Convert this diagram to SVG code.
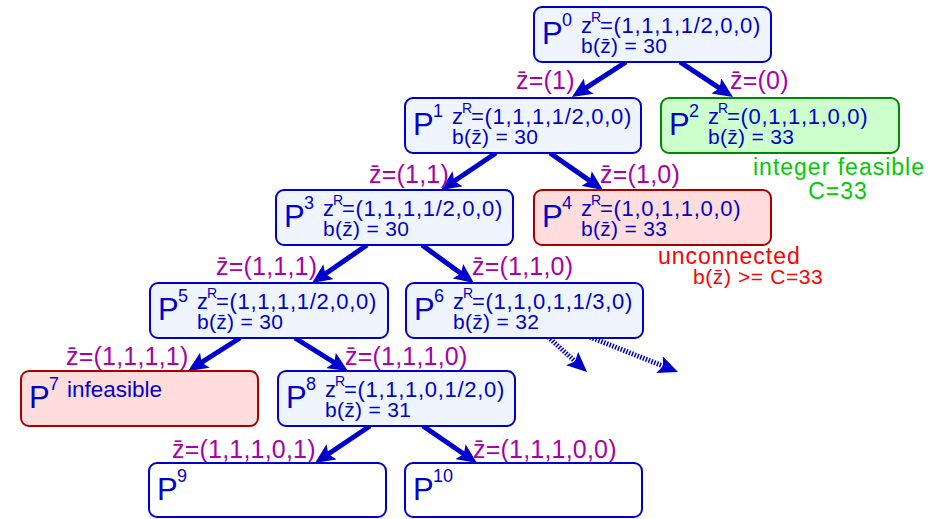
<svg xmlns="http://www.w3.org/2000/svg" width="948" height="519" viewBox="0 0 948 519">
<style>
  text { font-family: "Liberation Sans", Arial, sans-serif; }
  .box { stroke-width: 2; }
  .blue { fill: #eef5ff; stroke: #0000cc; }
  .green { fill: #ccffcc; stroke: #008800; }
  .red { fill: #ffdddd; stroke: #aa0000; }
  .white { fill: #ffffff; stroke: #0000cc; }
  .t { fill: #0000cc; }
  .P { font-size: 31px; }
  .sup { font-size: 18px; }
  .z { font-size: 22px; }
  .R { font-size: 14px; }
  .eq { font-size: 22px; letter-spacing: 0.7px; }
  .l2 { font-size: 21px; letter-spacing: 0.3px; }
  .lab { fill: #aa00aa; font-size: 25px; letter-spacing: 0.2px; }
  .edge { stroke: #0000cc; stroke-width: 5; fill: none; marker-end: url(#ah); }
  .dash { stroke-dasharray: 1.5 1.5; }
  .gtxt { fill: #00cc00; font-size: 23px; letter-spacing: 1px; }
  .rtxt { fill: #ff0000; font-size: 23px; letter-spacing: 1px; }
</style>
<defs>
  <marker id="ah" markerUnits="userSpaceOnUse" viewBox="0 0 20 18" refX="12" refY="9" markerWidth="20" markerHeight="18" orient="auto">
    <path d="M0,0 L20,9 L0,18 L4,9 z" fill="#0000cc"/>
  </marker>
</defs>

<g id="connectors">
  <line class="edge" x1="626" y1="62" x2="578.7" y2="92.6"/>
  <line class="edge" x1="680" y1="62" x2="726.3" y2="92.6"/>
  <line class="edge" x1="496" y1="153" x2="447.6" y2="185.5"/>
  <line class="edge" x1="550" y1="153" x2="596.4" y2="185.4"/>
  <line class="edge" x1="367" y1="245" x2="318.6" y2="278.5"/>
  <line class="edge" x1="422" y1="245" x2="467.5" y2="278.3"/>
  <line class="edge" x1="240" y1="338" x2="194.8" y2="366.7"/>
  <line class="edge" x1="295" y1="338" x2="341.2" y2="366.8"/>
  <line class="edge dash" x1="548" y1="337" x2="581.1" y2="366.6"/>
  <line class="edge dash" x1="590" y1="337" x2="670.6" y2="369"/>
  <line class="edge" x1="370" y1="426" x2="321.6" y2="458.5"/>
  <line class="edge" x1="423" y1="426" x2="470.4" y2="458.5"/>
  <text class="lab" x="516" y="89">z&#x0304;=(1)</text>
  <text class="lab" x="730" y="89">z&#x0304;=(0)</text>
  <text class="lab" x="369" y="183">z&#x0304;=(1,1)</text>
  <text class="lab" x="600" y="183">z&#x0304;=(1,0)</text>
  <text class="lab" x="216" y="275">z&#x0304;=(1,1,1)</text>
  <text class="lab" x="472" y="275">z&#x0304;=(1,1,0)</text>
  <text class="lab" x="66" y="365">z&#x0304;=(1,1,1,1)</text>
  <text class="lab" x="345" y="365">z&#x0304;=(1,1,1,0)</text>
  <text class="lab" x="172" y="458">z&#x0304;=(1,1,1,0,1)</text>
  <text class="lab" x="473" y="458">z&#x0304;=(1,1,1,0,0)</text>
</g>

<g id="P0" transform="translate(534,7)">
  <rect class="box blue" x="0" y="0" width="237" height="55" rx="8"/>
  <text class="t P" x="8" y="37">P</text><text class="t sup" x="28" y="19">0</text>
  <text class="t z" x="47" y="26">z</text><text class="t R" x="57" y="15">R</text>
  <text class="t eq" x="66" y="26">=(1,1,1,1/2,0,0)</text>
  <text class="t l2" x="47" y="46">b(z&#x0304;) = 30</text>
</g>
<g id="P1" transform="translate(405,98)">
  <rect class="box blue" x="0" y="0" width="236" height="55" rx="8"/>
  <text class="t P" x="8" y="37">P</text><text class="t sup" x="28" y="19">1</text>
  <text class="t z" x="47" y="26">z</text><text class="t R" x="57" y="15">R</text>
  <text class="t eq" x="66" y="26">=(1,1,1,1/2,0,0)</text>
  <text class="t l2" x="47" y="46">b(z&#x0304;) = 30</text>
</g>
<g id="P2" transform="translate(661,98)">
  <rect class="box green" x="0" y="0" width="238" height="55" rx="8"/>
  <text class="t P" x="8" y="37">P</text><text class="t sup" x="28" y="19">2</text>
  <text class="t z" x="47" y="26">z</text><text class="t R" x="57" y="15">R</text>
  <text class="t eq" x="66" y="26">=(0,1,1,1,0,0)</text>
  <text class="t l2" x="47" y="46">b(z&#x0304;) = 33</text>
</g>
<text class="gtxt" x="753" y="175">integer feasible</text>
<text class="gtxt" x="838" y="199" text-anchor="middle">C=33</text>
<g id="P3" transform="translate(276,190)">
  <rect class="box blue" x="0" y="0" width="237" height="55" rx="8"/>
  <text class="t P" x="8" y="37">P</text><text class="t sup" x="28" y="19">3</text>
  <text class="t z" x="47" y="26">z</text><text class="t R" x="57" y="15">R</text>
  <text class="t eq" x="66" y="26">=(1,1,1,1/2,0,0)</text>
  <text class="t l2" x="47" y="46">b(z&#x0304;) = 30</text>
</g>
<g id="P4" transform="translate(534,190)">
  <rect class="box red" x="0" y="0" width="237" height="55" rx="8"/>
  <text class="t P" x="8" y="37">P</text><text class="t sup" x="28" y="19">4</text>
  <text class="t z" x="47" y="26">z</text><text class="t R" x="57" y="15">R</text>
  <text class="t eq" x="66" y="26">=(1,0,1,1,0,0)</text>
  <text class="t l2" x="47" y="46">b(z&#x0304;) = 33</text>
</g>
<text class="rtxt" x="658" y="264">unconnected</text>
<text class="rtxt" x="693" y="284" style="font-size:21px;letter-spacing:0.6px">b(z&#x0304;) &gt;= C=33</text>
<g id="P5" transform="translate(150,283)">
  <rect class="box blue" x="0" y="0" width="238" height="55" rx="8"/>
  <text class="t P" x="8" y="37">P</text><text class="t sup" x="28" y="19">5</text>
  <text class="t z" x="47" y="26">z</text><text class="t R" x="57" y="15">R</text>
  <text class="t eq" x="66" y="26">=(1,1,1,1/2,0,0)</text>
  <text class="t l2" x="47" y="46">b(z&#x0304;) = 30</text>
</g>
<g id="P6" transform="translate(406,283)">
  <rect class="box blue" x="0" y="0" width="237" height="55" rx="8"/>
  <text class="t P" x="8" y="37">P</text><text class="t sup" x="28" y="19">6</text>
  <text class="t z" x="47" y="26">z</text><text class="t R" x="57" y="15">R</text>
  <text class="t eq" x="66" y="26">=(1,1,0,1,1/3,0)</text>
  <text class="t l2" x="47" y="46">b(z&#x0304;) = 32</text>
</g>
<g id="P7" transform="translate(21,371)">
  <rect class="box red" x="0" y="0" width="237" height="55" rx="8"/>
  <text class="t P" x="8" y="37">P</text><text class="t sup" x="28" y="19">7</text>
  <text class="t" x="46" y="26" style="font-size:22.5px">infeasible</text>
</g>
<g id="P8" transform="translate(278,371)">
  <rect class="box blue" x="0" y="0" width="237" height="55" rx="8"/>
  <text class="t P" x="8" y="37">P</text><text class="t sup" x="28" y="19">8</text>
  <text class="t z" x="47" y="26">z</text><text class="t R" x="57" y="15">R</text>
  <text class="t eq" x="66" y="26">=(1,1,1,0,1/2,0)</text>
  <text class="t l2" x="47" y="46">b(z&#x0304;) = 31</text>
</g>
<g id="P9" transform="translate(149,463)">
  <rect class="box white" x="0" y="0" width="237" height="54" rx="8"/>
  <text class="t P" x="8" y="37">P</text><text class="t sup" x="28" y="19">9</text>
</g>
<g id="P10" transform="translate(405,463)">
  <rect class="box white" x="0" y="0" width="237" height="54" rx="8"/>
  <text class="t P" x="8" y="37">P</text><text class="t sup" x="28" y="19">10</text>
</g>
</svg>
